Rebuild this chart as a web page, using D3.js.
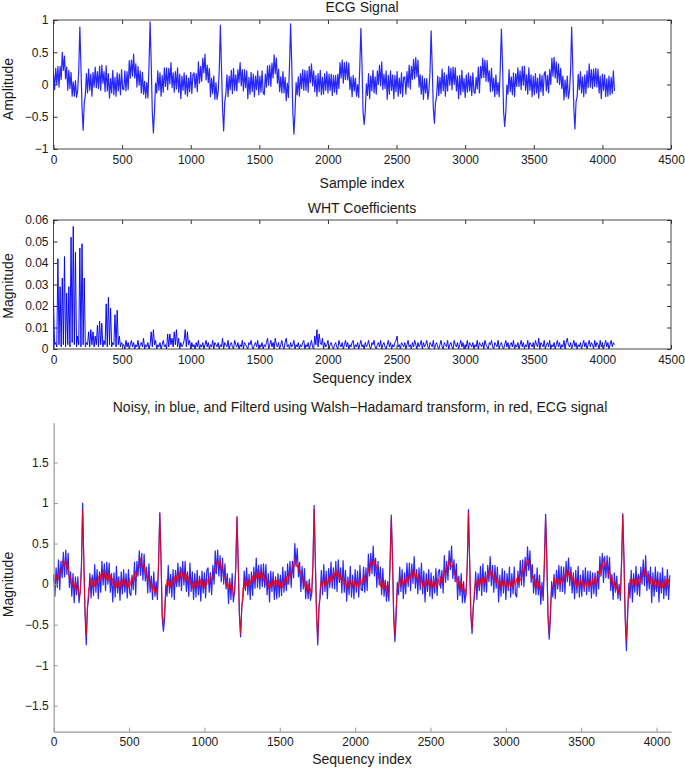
<!DOCTYPE html>
<html>
<head>
<meta charset="utf-8">
<script src="https://cdn.jsdelivr.net/npm/d3@7/dist/d3.min.js"></script>
<style>
body { margin: 0; background: #fff; }
text { font-family: "Liberation Sans", Arial, Helvetica, sans-serif; }
</style>
</head>
<body>
<div class="canvas"></div>
<script>
// every series is read at every 8th sample of the 4096-sample records
const sampleStep = 8;

// ECG signal (top panel), amplitude in hundredths, one line per heartbeat
const ecgNoisy = [
  16,-8,25,0,28,-4,28,8,50,22, 44,9,27,-9,22,-6,19,-18,4,-18, 6,-20,-10,22,89,28,-37,-71,-29,-17, 17,-13,24,-9,16,-18,19,-4,27,-5, 20,-6,28,-9,30,2,20,-11,29,-10, 17,-21,9,-13,22,-16,11,-18,18,-10, 16,-16,23,-7,
  -8,21,-10,20,-8,37,10,38,13,47, 10,32,-4,28,-1,21,-13,19,-15,5, -21,3,-21,29,97,34,-43,-75,-42,2, -13,21,-9,18,-18,14,-12,26,-3,26, -8,25,1,34,-5,18,-12,20,-7,26, -12,16,-22,13,-9,18,-15,14,-18,10, -11,19,-14,15,
  18,-5,17,-11,35,2,28,5,41,18, 47,7,30,3,25,-19,10,-14,13,-23, 3,-23,-11,22,92,27,-38,-72,-27,-15, 15,-19,13,-8,22,-14,25,-9,15,-10, 23,3,34,-2,23,-10,23,-5,21,-22, 11,-15,19,-11,16,-19,13,-8,21,-16, 13,-12,21,-13,
  -16,16,-4,29,-1,30,-3,33,10,46, 17,41,2,24,-11,12,-13,20,-13,11, -25,2,-20,30,94,32,-42,-77,-43,3, -16,12,-18,17,-6,23,-9,22,-9,21, -12,28,3,32,-2,21,-11,14,-18,17, -11,22,-16,11,-15,17,-9,20,-13,16, -9,16,-17,14,
  -12,14,-15,16,-6,34,10,38,2,34, 8,35,7,33,-8,12,-19,14,-10,10, -18,0,-20,28,87,32,-43,-62,-41,1, -17,17,-22,13,-10,22,-13,12,-15,21, 0,30,-2,35,-8,16,-6,21,-23,14, -15,21,-9,15,-22,14,-11,20,-18,10, -14,18,-19,11,
  12,-15,20,-4,30,-7,28,8,39,9, 42,12,38,-4,15,-15,13,-23,9,-13, 9,-23,-9,21,83,26,-37,-60,-28,-18, 13,-17,11,-14,24,-10,18,-18,15,-10, 28,-1,25,-8,27,0,26,-10,13,-22, 14,-16,22,-11,9,-20,15,-12,18,-10, 13,-17,18,-11,
  -14,11,-7,27,-13,28,10,41,11,38, 5,37,4,21,-11,25,-10,10,-19,15, -15,3,-19,28,86,33,-42,-65,-43,-1, -15,23,-11,12,-16,18,-19,17,-3,26, -3,21,-8,28,-1,28,-9,15,-15,26, -9,15,-19,13,-16,17,-13,10,-21,16, -11,14,-17,17,
  20,-10,14,-13,23,0,41,13,42,10, 35,3,32,0,25,-6,13,-24,7,-19, 13,-22,-10,20,89,28,-38,-69,-27,-19, 16,-8,20,-13,12,-19,15,-14,21,-5, 32,-4,23,-6,24,-3,25,-4,24,-13, 13,-22,16,-9,15,-19,9,-18,13,-16, 11,-14,21,-10
];

// WHT coefficient magnitudes (middle panel), in thousandths
const whtMagnitude = [
  22,2,3,1,42,2,29,1,33,2, 43,1,26,2,29,1,52,3,57,2, 45,1,6,2,47,1,49,2,33,1, 3,2,8,1,9,2,8,1,6,2, 11,1,13,2,12,1,4,2,21,1, 24,2,19,1,3,2,16,1,18,2, 6,1,3,2,
  2,0,4,1,3,0,2,4,1,3, 0,2,1,4,0,2,3,1,5,0, 2,1,3,0,2,8,1,9,2,4, 0,2,1,3,0,2,4,1,2,0, 7,1,7,2,5,1,8,2,9,1, 5,0,3,1,2,4,9,1,8,2, 4,0,3,1,
  2,0,3,1,4,0,2,1,3,0, 2,4,1,3,0,2,1,4,0,3, 2,1,3,0,2,1,5,0,3,2, 1,4,
  0,2,3,1,0,4,2,1,3,0, 2,1,4,0,3,2,1,0,3,2, 4,1,0,2,3,1,4,0,2,1, 3,0,
  2,1,3,5,0,2,4,1,3,0, 5,2,1,3,0,2,4,1,0,3, 5,1,2,0,3,1,2,4,0,2, 1,3,
  0,2,1,3,4,0,2,1,3,0, 2,4,1,0,6,2,9,1,7,3, 2,5,0,3,1,2,4,0,2,3, 1,0,
  2,3,1,0,4,2,1,3,0,2, 4,1,3,0,2,1,3,4,0,2, 1,3,0,2,4,1,2,0,3,1, 2,4,
  1,0,3,2,4,1,0,2,3,1, 4,0,2,3,1,0,2,4,1,3, 0,2,1,3,4,6,1,2,0,3, 2,1,
  3,0,2,4,1,2,0,3,1,4, 2,0,3,1,2,4,0,3,1,2, 4,1,0,3,2,1,4,0,2,3, 1,0,
  2,4,1,0,3,2,1,4,0,2, 3,1,0,4,2,1,3,0,2,4, 1,3,0,2,1,4,0,3,2,1, 3,0,
  2,1,4,0,3,2,1,3,0,4, 2,1,0,3,2,4,1,0,3,2, 1,4,0,2,3,1,0,2,4,1, 3,0,
  2,3,1,4,0,2,1,3,0,2, 4,1,3,0,2,1,4,0,3,2, 1,3,0,4,2,1,5,0,3,2, 1,4,
  0,2,3,1,4,0,2,1,3,0, 2,4,1,3,0,2,1,4,0,3, 5,2,1,3,0,2,4,1,3,0, 2,1,
  3,0,2,4,1,3,0,2,4,1, 3,2,0,4,1,3,2,0,4,1, 3,0,2,4,1,3,0,2,4,1, 3,2
];

// noisy ECG of the bottom panel (blue), hundredths
const overlayNoisy = [
  12,-15,20,-4,30,-7,28,8,39,9, 42,12,38,-4,15,-15,13,-23,9,-13, 9,-23,-9,21,100,26,-37,-75,-28,-18, 13,-17,11,-14,24,-10,18,-18,15,-10, 28,-1,25,-8,27,0,26,-10,13,-22, 14,-16,22,-11,9,-20,15,-12,18,-10, 13,-17,18,-11,
  -14,11,-7,27,-13,28,10,41,11,38, 5,37,4,21,-11,25,-10,10,-19,15, -15,3,-19,28,88,33,-42,-58,-43,-1, -15,23,-11,12,-16,18,-19,17,-3,26, -3,21,-8,28,-1,28,-9,15,-15,26, -9,15,-19,13,-16,17,-13,10,-21,16, -11,14,-17,17,
  20,-10,14,-13,23,0,41,13,42,10, 35,3,32,0,25,-6,13,-24,7,-19, 13,-22,-10,20,83,28,-38,-65,-27,-19, 16,-8,20,-13,12,-19,15,-14,21,-5, 32,-4,23,-6,24,-3,25,-4,24,-13, 13,-22,16,-9,15,-19,9,-18,13,-16, 11,-14,21,-10,
  16,-8,25,0,28,-4,28,8,50,22, 44,9,27,-9,22,-6,19,-18,4,-18, 6,-20,-10,22,97,28,-37,-75,-29,-17, 17,-13,24,-9,16,-18,19,-4,27,-5, 20,-6,28,-9,30,2,20,-11,29,-10, 17,-21,9,-13,22,-16,11,-18,18,-10, 16,-16,23,-7,
  -8,21,-10,20,-8,37,10,38,13,47, 10,32,-4,28,-1,21,-13,19,-15,5, -21,3,-21,29,85,34,-43,-71,-42,2, -13,21,-9,18,-18,14,-12,26,-3,26, -8,25,1,34,-5,18,-12,20,-7,26, -12,16,-22,13,-9,18,-15,14,-18,10, -11,19,-14,15,
  18,-5,17,-11,35,2,28,5,41,18, 47,7,30,3,25,-19,10,-14,13,-23, 3,-23,-11,22,92,27,-38,-61,-27,-15, 15,-19,13,-8,22,-14,25,-9,15,-10, 23,3,34,-2,23,-10,23,-5,21,-22, 11,-15,19,-11,16,-19,13,-8,21,-16, 13,-12,21,-13,
  -16,16,-4,29,-1,30,-3,33,10,46, 17,41,2,24,-11,12,-13,20,-13,11, -25,2,-20,30,86,32,-42,-68,-43,3, -16,12,-18,17,-6,23,-9,22,-9,21, -12,28,3,32,-2,21,-11,14,-18,17, -11,22,-16,11,-15,17,-9,20,-13,16, -9,16,-17,14,
  -12,14,-15,16,-6,34,10,38,2,34, 8,35,7,33,-8,12,-19,14,-10,10, -18,0,-20,28,87,32,-43,-82,-41,1, -17,17,-22,13,-10,22,-13,12,-15,21, 0,30,-2,35,-8,16,-6,21,-23,14, -15,21,-9,15,-22,14,-11,20,-18,10, -14,18,-19,11
];

// Walsh-Hadamard filtered ECG (red), hundredths
const overlayFiltered = [
  7,-1,11,5,6,19,13,28,28,23, 30,19,23,7,10,-3,5,-6,3,-7, -2,-15,-12,22,91,28,-35,-63,-30,-5, -5,8,-2,7,-3,5,-1,10,1,12, 7,18,8,16,5,14,4,11,-1,7, -5,3,-4,7,-3,4,-6,5,-3,6, -4,4,-4,7,
  -2,9,0,11,16,9,23,20,32,24, 21,25,11,17,3,9,-3,3,-9,0, -11,-6,-14,24,87,29,-37,-50,-31,-7, 6,-2,6,-4,6,-3,9,1,10,2, 15,9,19,9,14,3,12,1,9,-1, 5,-6,3,-4,6,-5,3,-4,6,-4, 6,-5,6,-1,
  7,-1,11,5,6,19,13,28,28,23, 30,19,23,7,10,-3,5,-6,3,-7, -2,-15,-12,22,83,28,-35,-61,-30,-5, -5,8,-2,7,-3,5,-1,10,1,12, 7,18,8,16,5,14,4,11,-1,7, -5,3,-4,7,-3,4,-6,5,-3,6, -4,4,-4,7,
  -2,9,0,11,16,9,23,20,32,24, 21,25,11,17,3,9,-3,3,-9,0, -11,-6,-14,24,93,29,-37,-69,-31,-7, 6,-2,6,-4,6,-3,9,1,10,2, 15,9,19,9,14,3,12,1,9,-1, 5,-6,3,-4,6,-5,3,-4,6,-4, 6,-5,6,-1,
  7,-1,11,5,6,19,13,28,28,23, 30,19,23,7,10,-3,5,-6,3,-7, -2,-15,-12,22,82,28,-35,-64,-30,-5, -5,8,-2,7,-3,5,-1,10,1,12, 7,18,8,16,5,14,4,11,-1,7, -5,3,-4,7,-3,4,-6,5,-3,6, -4,4,-4,7,
  -2,9,0,11,16,9,23,20,32,24, 21,25,11,17,3,9,-3,3,-9,0, -11,-6,-14,24,88,29,-37,-55,-31,-7, 6,-2,6,-4,6,-3,9,1,10,2, 15,9,19,9,14,3,12,1,9,-1, 5,-6,3,-4,6,-5,3,-4,6,-4, 6,-5,6,-1,
  7,-1,11,5,6,19,13,28,28,23, 30,19,23,7,10,-3,5,-6,3,-7, -2,-15,-12,22,83,28,-35,-62,-30,-5, -5,8,-2,7,-3,5,-1,10,1,12, 7,18,8,16,5,14,4,11,-1,7, -5,3,-4,7,-3,4,-6,5,-3,6, -4,4,-4,7,
  -2,9,0,11,16,9,23,20,32,24, 21,25,11,17,3,9,-3,3,-9,0, -11,-6,-14,24,85,29,-37,-70,-31,-7, 6,-2,6,-4,6,-3,9,1,10,2, 15,9,19,9,14,3,12,1,9,-1, 5,-6,3,-4,6,-5,3,-4,6,-4, 6,-5,6,-1
];

const sampleTicks = [0, 500, 1000, 1500, 2000, 2500, 3000, 3500, 4000, 4500];
const amplitudeTicks = [-1, -0.5, 0, 0.5, 1];
const whtTicks = [0, 0.01, 0.02, 0.03, 0.04, 0.05, 0.06];
const overlayXTicks = [0, 500, 1000, 1500, 2000, 2500, 3000, 3500, 4000];
const overlayYTicks = [-1.5, -1, -0.5, 0, 0.5, 1, 1.5];

const dims = {width: 685, height: 768};
const font = '"Liberation Sans", Arial, Helvetica, sans-serif';

const svg = d3.select('.canvas')
    .append('svg')
    .attr('width', dims.width)
    .attr('height', dims.height);

const x = d3.scaleLinear().domain([0, 4500]).range([53.5, 671]);
const fmt = d3.format('');

const styleAxis = (sel, color) => {
    sel.select('.domain').remove();
    sel.selectAll('line').attr('stroke', color);
    sel.selectAll('text')
        .attr('font-size', 12)
        .attr('font-family', font)
        .attr('fill', '#1a1a1a');
};

const label = (txt, tx, ty, rotate) => svg.append('text')
    .attr('transform', `translate(${tx}, ${ty})` + (rotate ? ' rotate(-90)' : ''))
    .attr('text-anchor', 'middle')
    .attr('font-size', 14)
    .attr('font-family', font)
    .attr('fill', '#1a1a1a')
    .text(txt);

// boxed panel with inward ticks on all four sides
const boxPanel = (y, yTicks) => {
    const [bottom, top] = y.range();
    const g = svg.append('g');

    g.append('g').attr('transform', `translate(0, ${bottom})`)
        .call(d3.axisBottom(x).tickValues(sampleTicks).tickSize(-4).tickPadding(6).tickFormat(fmt))
        .call(s => styleAxis(s, '#333'));
    g.append('g').attr('transform', `translate(0, ${top})`)
        .call(d3.axisTop(x).tickValues(sampleTicks).tickSize(-4).tickFormat(''))
        .call(s => styleAxis(s, '#333'));
    g.append('g').attr('transform', 'translate(53.5, 0)')
        .call(d3.axisLeft(y).tickValues(yTicks).tickSize(-4).tickPadding(5).tickFormat(fmt))
        .call(s => styleAxis(s, '#333'));
    g.append('g').attr('transform', 'translate(671, 0)')
        .call(d3.axisRight(y).tickValues(yTicks).tickSize(-4).tickFormat(''))
        .call(s => styleAxis(s, '#333'));

    g.append('rect')
        .attr('x', 53.5).attr('y', top)
        .attr('width', 671 - 53.5).attr('height', bottom - top)
        .attr('fill', 'none')
        .attr('stroke', '#333')
        .attr('stroke-width', 0.9);
    return g;
};

// ---- panel 1: ECG signal
const yEcg = d3.scaleLinear().domain([-1, 1]).range([149, 20]);
const p1 = boxPanel(yEcg, amplitudeTicks);
p1.insert('path', ':first-child')
    .datum(ecgNoisy)
    .attr('fill', 'none')
    .attr('stroke', '#0000ff')
    .attr('stroke-width', 1.2)
    .attr('stroke-opacity', 0.85)
    .attr('stroke-linejoin', 'round')
    .attr('d', d3.line().x((d, i) => x(i * sampleStep)).y(d => yEcg(d / 100)));

label('ECG Signal', 362, 12);
label('Sample index', 362, 187.5);
label('Amplitude', 12.5, 89, true);

// ---- panel 2: WHT coefficients
const yWht = d3.scaleLinear().domain([0, 0.06]).range([349, 220]);
const p2 = boxPanel(yWht, whtTicks);
p2.insert('path', ':first-child')
    .datum(whtMagnitude)
    .attr('fill', 'none')
    .attr('stroke', '#0000ff')
    .attr('stroke-width', 1)
    .attr('stroke-opacity', 0.95)
    .attr('d', d3.line().x((d, i) => x(i * sampleStep)).y(d => yWht(d / 1000)));

label('WHT Coefficients', 362, 212.5);
label('Sequency index', 362, 383);
label('Magnitude', 12.5, 286, true);

// ---- panel 3: noisy vs filtered
const x3 = d3.scaleLinear().domain([0, 4096]).range([53.7, 671]);
const y3 = d3.scaleLinear().domain([-1.82, 1.99]).range([731.7, 422.7]);

const line3 = d3.line().x((d, i) => x3(i * sampleStep)).y(d => y3(d / 100));

svg.append('path')
    .datum(overlayNoisy)
    .attr('fill', 'none')
    .attr('stroke', '#0000ff')
    .attr('stroke-width', 1.2)
    .attr('stroke-opacity', 0.85)
    .attr('stroke-linejoin', 'round')
    .attr('d', line3);

svg.append('path')
    .datum(overlayFiltered)
    .attr('fill', 'none')
    .attr('stroke', '#ff0000')
    .attr('stroke-width', 1.1)
    .attr('stroke-opacity', 0.8)
    .attr('stroke-linejoin', 'round')
    .attr('d', line3);

const axisStyle3 = s => {
    s.select('.domain').attr('stroke', '#999').attr('stroke-width', 1.2);
    s.selectAll('line').attr('stroke', '#999');
    s.selectAll('text').attr('font-size', 12).attr('font-family', font).attr('fill', '#1a1a1a');
};

svg.append('g').attr('transform', 'translate(0, 731.7)')
    .call(d3.axisBottom(x3).tickValues(overlayXTicks).tickSize(-4).tickSizeOuter(0).tickPadding(6).tickFormat(fmt))
    .call(axisStyle3);
svg.append('g').attr('transform', 'translate(53.7, 0)')
    .call(d3.axisLeft(y3).tickValues(overlayYTicks).tickSize(-4).tickSizeOuter(0).tickPadding(5).tickFormat(fmt))
    .call(axisStyle3);

label('Noisy, in blue, and Filterd using Walsh\u2212Hadamard transform, in red, ECG signal', 360, 412);
label('Sequency index', 362, 764);
label('Magnitude', 12.5, 584.5, true);
</script>
</body>
</html>
